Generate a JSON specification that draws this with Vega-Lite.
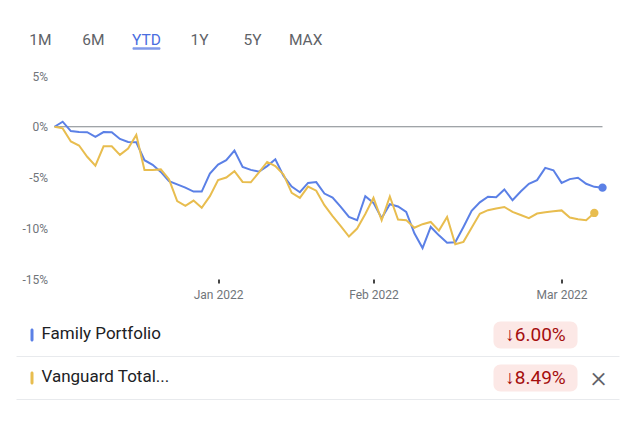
{
  "$schema": "https://vega.github.io/schema/vega-lite/v6.json",
  "background": "white",
  "padding": {"left": 15.5, "top": 30.5, "right": 0, "bottom": 0},
  "spacing": 12.5,
  "config": {
    "font": "Roboto",
    "view": {"stroke": null},
    "axis": {"labelFont": "Roboto"},
    "text": {"font": "Roboto"}
  },
  "datasets": {
    "tabs": [
      {"tab": "1M", "selected": false},
      {"tab": "6M", "selected": false},
      {"tab": "YTD", "selected": true},
      {"tab": "1Y", "selected": false},
      {"tab": "5Y", "selected": false},
      {"tab": "MAX", "selected": false}
    ],
    "legend": [
      {"series": "Family Portfolio", "change": -6.00, "removable": false},
      {"series": "Vanguard Total...", "change": -8.49, "removable": true}
    ],
    "perf": [
      {"s":"Family Portfolio","i":0,"v":0},{"s":"Family Portfolio","i":1,"v":0.5},{"s":"Family Portfolio","i":2,"v":-0.43},{"s":"Family Portfolio","i":3,"v":-0.52},{"s":"Family Portfolio","i":4,"v":-0.53},{"s":"Family Portfolio","i":5,"v":-1.0},{"s":"Family Portfolio","i":6,"v":-0.52},{"s":"Family Portfolio","i":7,"v":-0.53},{"s":"Family Portfolio","i":8,"v":-1.2},{"s":"Family Portfolio","i":9,"v":-1.5},
      {"s":"Family Portfolio","i":10,"v":-1.53},{"s":"Family Portfolio","i":11,"v":-3.3},{"s":"Family Portfolio","i":12,"v":-3.75},{"s":"Family Portfolio","i":13,"v":-4.45},{"s":"Family Portfolio","i":14,"v":-5.35},{"s":"Family Portfolio","i":15,"v":-5.68},{"s":"Family Portfolio","i":16,"v":-6.0},{"s":"Family Portfolio","i":17,"v":-6.39},{"s":"Family Portfolio","i":18,"v":-6.39},{"s":"Family Portfolio","i":19,"v":-4.62},
      {"s":"Family Portfolio","i":20,"v":-3.72},{"s":"Family Portfolio","i":21,"v":-3.29},{"s":"Family Portfolio","i":22,"v":-2.35},{"s":"Family Portfolio","i":23,"v":-3.95},{"s":"Family Portfolio","i":24,"v":-4.25},{"s":"Family Portfolio","i":25,"v":-4.42},{"s":"Family Portfolio","i":26,"v":-3.88},{"s":"Family Portfolio","i":27,"v":-3.2},{"s":"Family Portfolio","i":28,"v":-4.85},{"s":"Family Portfolio","i":29,"v":-5.9},
      {"s":"Family Portfolio","i":30,"v":-6.45},{"s":"Family Portfolio","i":31,"v":-5.53},{"s":"Family Portfolio","i":32,"v":-5.45},{"s":"Family Portfolio","i":33,"v":-6.58},{"s":"Family Portfolio","i":34,"v":-6.97},{"s":"Family Portfolio","i":35,"v":-7.89},{"s":"Family Portfolio","i":36,"v":-8.88},{"s":"Family Portfolio","i":37,"v":-9.21},{"s":"Family Portfolio","i":38,"v":-6.84},{"s":"Family Portfolio","i":39,"v":-7.5},
      {"s":"Family Portfolio","i":40,"v":-9.0},{"s":"Family Portfolio","i":41,"v":-7.63},{"s":"Family Portfolio","i":42,"v":-7.85},{"s":"Family Portfolio","i":43,"v":-8.39},{"s":"Family Portfolio","i":44,"v":-10.5},{"s":"Family Portfolio","i":45,"v":-11.95},{"s":"Family Portfolio","i":46,"v":-9.87},{"s":"Family Portfolio","i":47,"v":-10.7},{"s":"Family Portfolio","i":48,"v":-11.43},{"s":"Family Portfolio","i":49,"v":-11.38},
      {"s":"Family Portfolio","i":50,"v":-9.87},{"s":"Family Portfolio","i":51,"v":-8.29},{"s":"Family Portfolio","i":52,"v":-7.45},{"s":"Family Portfolio","i":53,"v":-6.9},{"s":"Family Portfolio","i":54,"v":-6.95},{"s":"Family Portfolio","i":55,"v":-6.18},{"s":"Family Portfolio","i":56,"v":-7.24},{"s":"Family Portfolio","i":57,"v":-6.38},{"s":"Family Portfolio","i":58,"v":-5.62},{"s":"Family Portfolio","i":59,"v":-5.26},
      {"s":"Family Portfolio","i":60,"v":-4.05},{"s":"Family Portfolio","i":61,"v":-4.29},{"s":"Family Portfolio","i":62,"v":-5.53},{"s":"Family Portfolio","i":63,"v":-5.16},{"s":"Family Portfolio","i":64,"v":-5.03},{"s":"Family Portfolio","i":65,"v":-5.62},{"s":"Family Portfolio","i":66,"v":-5.92},{"s":"Family Portfolio","i":67,"v":-6.0},
      {"s":"Vanguard Total...","i":0,"v":0},{"s":"Vanguard Total...","i":1,"v":-0.16},{"s":"Vanguard Total...","i":2,"v":-1.45},{"s":"Vanguard Total...","i":3,"v":-1.85},{"s":"Vanguard Total...","i":4,"v":-2.96},{"s":"Vanguard Total...","i":5,"v":-3.84},{"s":"Vanguard Total...","i":6,"v":-1.93},{"s":"Vanguard Total...","i":7,"v":-1.93},{"s":"Vanguard Total...","i":8,"v":-2.77},{"s":"Vanguard Total...","i":9,"v":-2.14},
      {"s":"Vanguard Total...","i":10,"v":-0.8},{"s":"Vanguard Total...","i":11,"v":-4.27},{"s":"Vanguard Total...","i":12,"v":-4.27},{"s":"Vanguard Total...","i":13,"v":-4.2},{"s":"Vanguard Total...","i":14,"v":-5.18},{"s":"Vanguard Total...","i":15,"v":-7.32},{"s":"Vanguard Total...","i":16,"v":-7.8},{"s":"Vanguard Total...","i":17,"v":-7.27},{"s":"Vanguard Total...","i":18,"v":-7.99},{"s":"Vanguard Total...","i":19,"v":-6.84},
      {"s":"Vanguard Total...","i":20,"v":-5.26},{"s":"Vanguard Total...","i":21,"v":-5.0},{"s":"Vanguard Total...","i":22,"v":-4.37},{"s":"Vanguard Total...","i":23,"v":-5.44},{"s":"Vanguard Total...","i":24,"v":-5.47},{"s":"Vanguard Total...","i":25,"v":-4.5},{"s":"Vanguard Total...","i":26,"v":-3.47},{"s":"Vanguard Total...","i":27,"v":-3.88},{"s":"Vanguard Total...","i":28,"v":-4.7},{"s":"Vanguard Total...","i":29,"v":-6.51},
      {"s":"Vanguard Total...","i":30,"v":-7.0},{"s":"Vanguard Total...","i":31,"v":-5.9},{"s":"Vanguard Total...","i":32,"v":-6.3},{"s":"Vanguard Total...","i":33,"v":-7.73},{"s":"Vanguard Total...","i":34,"v":-8.8},{"s":"Vanguard Total...","i":35,"v":-9.8},{"s":"Vanguard Total...","i":36,"v":-10.82},{"s":"Vanguard Total...","i":37,"v":-10.03},{"s":"Vanguard Total...","i":38,"v":-8.6},{"s":"Vanguard Total...","i":39,"v":-7.0},
      {"s":"Vanguard Total...","i":40,"v":-9.22},{"s":"Vanguard Total...","i":41,"v":-6.87},{"s":"Vanguard Total...","i":42,"v":-9.14},{"s":"Vanguard Total...","i":43,"v":-9.2},{"s":"Vanguard Total...","i":44,"v":-9.95},{"s":"Vanguard Total...","i":45,"v":-9.6},{"s":"Vanguard Total...","i":46,"v":-9.38},{"s":"Vanguard Total...","i":47,"v":-10.23},{"s":"Vanguard Total...","i":48,"v":-8.88},{"s":"Vanguard Total...","i":49,"v":-11.57},
      {"s":"Vanguard Total...","i":50,"v":-11.34},{"s":"Vanguard Total...","i":51,"v":-9.95},{"s":"Vanguard Total...","i":52,"v":-8.58},{"s":"Vanguard Total...","i":53,"v":-8.22},{"s":"Vanguard Total...","i":54,"v":-8.06},{"s":"Vanguard Total...","i":55,"v":-7.9},{"s":"Vanguard Total...","i":56,"v":-8.39},{"s":"Vanguard Total...","i":57,"v":-8.7},{"s":"Vanguard Total...","i":58,"v":-9.0},{"s":"Vanguard Total...","i":59,"v":-8.55},
      {"s":"Vanguard Total...","i":60,"v":-8.43},{"s":"Vanguard Total...","i":61,"v":-8.33},{"s":"Vanguard Total...","i":62,"v":-8.24},{"s":"Vanguard Total...","i":63,"v":-8.94},{"s":"Vanguard Total...","i":64,"v":-9.12},{"s":"Vanguard Total...","i":65,"v":-9.21},{"s":"Vanguard Total...","i":66,"v":-8.49}
    ]
  },
  "vconcat": [
    {
      "width": 275,
      "height": 27,
      "data": {"name": "tabs"},
      "layer": [
        {
          "mark": {"type": "text", "fontSize": 15.5, "fontWeight": 400, "baseline": "middle", "align": "center"},
          "encoding": {
            "x": {"field": "tab", "type": "nominal", "scale": {"type": "point", "padding": 0.45, "range": [-38, 275], "domain": ["1M", "6M", "YTD", "1Y", "5Y", "MAX"]}, "axis": null},
            "y": {"datum": "label", "type": "nominal", "scale": {"type": "point", "domain": ["label", "bar"], "padding": 1}, "axis": null},
            "text": {"field": "tab"},
            "color": {"condition": {"test": "datum.selected", "value": "#4a6ee0"}, "value": "#5f6368"}
          }
        },
        {
          "transform": [{"filter": "datum.selected"}],
          "mark": {"type": "tick", "orient": "horizontal", "size": 28, "thickness": 2.5, "cornerRadius": 1.25, "color": "#4a6ee0"},
          "encoding": {
            "x": {"field": "tab", "type": "nominal", "axis": null},
            "y": {"datum": "bar", "type": "nominal", "axis": null}
          }
        }
      ]
    },
    {
      "width": 548,
      "height": 203,
      "layer": [
        {
          "data": {"values": [{}]},
          "mark": {"type": "rule", "color": "#80868b", "strokeWidth": 1},
          "encoding": {
            "y": {"datum": 0, "type": "quantitative", "scale": {"domain": [-15, 5], "nice": false}}
          }
        },
        {
          "data": {"name": "perf"},
          "mark": {"type": "line", "strokeWidth": 2},
          "encoding": {
            "x": {"field": "i", "type": "quantitative", "scale": {"domain": [0, 67], "nice": false, "zero": false},
              "axis": {"values": [20, 39, 62], "labelExpr": "datum.value == 20 ? 'Jan 2022' : datum.value == 39 ? 'Feb 2022' : 'Mar 2022'", "title": null, "grid": false, "domain": false, "tickSize": 4, "tickWidth": 2, "tickColor": "#444444", "labelPadding": 6, "labelColor": "#70757a", "labelFontSize": 12, "minExtent": 22}},
            "y": {"field": "v", "type": "quantitative", "scale": {"domain": [-15, 5], "nice": false},
              "axis": {"values": [-15, -10, -5, 0, 5], "labelExpr": "datum.value + '%'", "title": null, "domain": false, "ticks": false, "labelPadding": 7, "labelColor": "#70757a", "labelFontSize": 12, "gridColor": "#f1f3f4", "minExtent": 38}},
            "color": {"field": "s", "type": "nominal", "scale": {"domain": ["Family Portfolio", "Vanguard Total..."], "range": ["#5b80e6", "#e8bd4f"]}, "legend": null}
          }
        },
        {
          "data": {"name": "perf"},
          "transform": [
            {"joinaggregate": [{"op": "max", "field": "i", "as": "imax"}], "groupby": ["s"]},
            {"filter": "datum.i == datum.imax"}
          ],
          "mark": {"type": "point", "filled": true, "size": 70, "opacity": 1},
          "encoding": {
            "x": {"field": "i", "type": "quantitative"},
            "y": {"field": "v", "type": "quantitative"},
            "color": {"field": "s", "type": "nominal", "legend": null}
          }
        }
      ]
    },
    {
      "width": 565,
      "height": 86,
      "data": {"name": "legend"},
      "transform": [{"calculate": "'↓' + format(abs(datum.change), '.2f') + '%'", "as": "changeLabel"}],
      "layer": [
        {
          "mark": {"type": "rule", "color": "#e8eaed", "strokeWidth": 1},
          "encoding": {
            "x": {"datum": 0, "type": "quantitative", "scale": {"domain": [0, 603], "range": [-38, 565], "nice": false, "zero": false}, "axis": null},
            "x2": {"datum": 603},
            "y": {"field": "series", "type": "nominal", "bandPosition": 1, "scale": {"domain": ["Family Portfolio", "Vanguard Total..."], "paddingInner": 0, "paddingOuter": 0}, "axis": null}
          }
        },
        {
          "mark": {"type": "tick", "orient": "vertical", "size": 13, "thickness": 3, "cornerRadius": 1.5, "opacity": 1},
          "encoding": {
            "x": {"datum": 15.5, "type": "quantitative", "axis": null},
            "y": {"field": "series", "type": "nominal", "axis": null},
            "color": {"field": "series", "type": "nominal", "legend": null}
          }
        },
        {
          "mark": {"type": "text", "align": "left", "baseline": "middle", "fontSize": 17, "fontWeight": 400, "color": "#202124", "dy": -1},
          "encoding": {
            "x": {"datum": 25, "type": "quantitative", "axis": null},
            "y": {"field": "series", "type": "nominal", "axis": null},
            "text": {"field": "series"}
          }
        },
        {
          "mark": {"type": "tick", "orient": "vertical", "size": 27, "thickness": 84, "cornerRadius": 7, "color": "#fce8e6", "opacity": 1},
          "encoding": {
            "x": {"datum": 519, "type": "quantitative", "axis": null},
            "y": {"field": "series", "type": "nominal", "axis": null}
          }
        },
        {
          "mark": {"type": "text", "align": "center", "baseline": "middle", "fontSize": 19, "fontWeight": 400, "color": "#a50e0e"},
          "encoding": {
            "x": {"datum": 519, "type": "quantitative", "axis": null},
            "y": {"field": "series", "type": "nominal", "axis": null},
            "text": {"field": "changeLabel"}
          }
        },
        {
          "transform": [{"filter": "datum.removable"}],
          "mark": {"type": "text", "align": "center", "baseline": "middle", "fontSize": 30, "fontWeight": 300, "color": "#5f6368"},
          "encoding": {
            "x": {"datum": 582, "type": "quantitative", "axis": null},
            "y": {"field": "series", "type": "nominal", "axis": null},
            "text": {"value": "×"}
          }
        }
      ]
    }
  ]
}
